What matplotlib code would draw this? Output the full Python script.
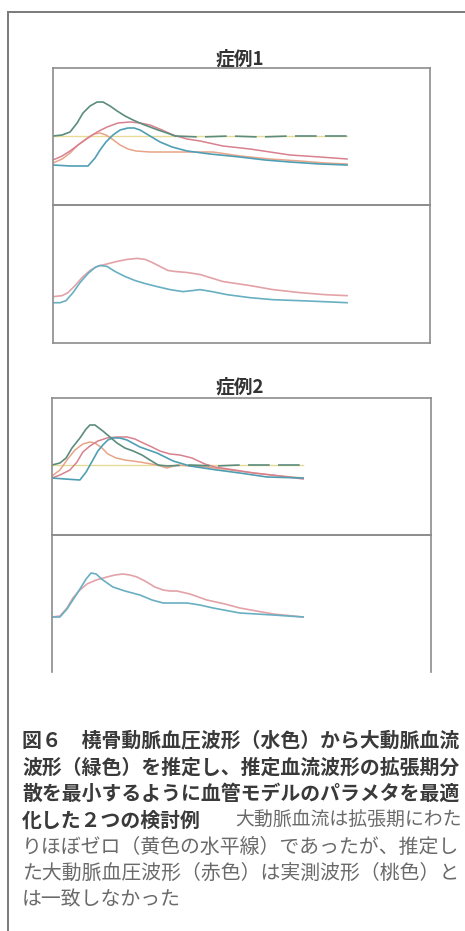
import matplotlib
matplotlib.use("Agg")
import matplotlib.pyplot as plt
from matplotlib.lines import Line2D

plt.rcParams['font.family'] = ['Noto Sans CJK JP', 'DejaVu Sans']

#------------ 症例1 上段 (ms, 任意単位) --------------------
c1_t_flow = [0, 31, 58, 82, 102, 126, 150, 170, 194, 218, 245, 272, 303, 330,
             357, 388, 415, 500, 602, 704, 806, 908, 1000]
c1_flow = [69, 70, 73, 82, 92, 99, 103, 103, 99, 94, 89, 85, 81, 78,
           75, 72, 69, 68, 69, 68, 69, 69, 69]
c1_t_radial = [0, 58, 119, 143, 160, 180, 204, 228, 255, 276, 296, 330, 364,
               405, 456, 534, 636, 721, 806, 908, 1000]
c1_radial = [40, 39, 39, 47, 55, 63, 70, 75, 77, 77, 75, 69, 63,
             58, 54, 51, 48, 45, 43, 41, 40]
c1_t_est = [0, 31, 58, 85, 119, 150, 184, 221, 262, 296, 330, 371, 408, 456,
            500, 578, 670, 806, 908, 1000]
c1_est = [45, 49, 54, 60, 67, 73, 78, 82, 83, 82, 80, 75, 70, 66,
          64, 59, 56, 50, 48, 46]
c1_t_meas = [0, 31, 58, 85, 116, 139, 160, 180, 201, 228, 255, 282, 330, 398,
             466, 544, 636, 738, 840, 925, 1000]
c1_meas = [42, 46, 52, 60, 67, 71, 72, 70, 66, 60, 56, 54, 53, 53,
           53, 53, 49, 46, 44, 42, 41]
c1_zero = 69
c1_split = 16

#------------ 症例1 下段 --------------------
c1b_t_blue = [0, 24, 44, 68, 92, 119, 143, 160, 184, 211, 245, 279, 313, 354,
              398, 442, 473, 500, 541, 592, 670, 748, 840, 925, 1000]
c1b_blue = [40, 40, 42, 50, 60, 69, 75, 77, 76, 71, 66, 62, 59, 56,
            53, 51, 52, 53, 51, 48, 45, 43, 42, 41, 40]
c1b_t_pink = [0, 31, 51, 75, 99, 126, 150, 177, 218, 252, 286, 313, 337, 364,
              391, 415, 456, 500, 578, 670, 748, 840, 925, 1000]
c1b_pink = [46, 47, 50, 57, 65, 72, 76, 78, 81, 83, 84, 83, 80, 76,
            72, 71, 70, 68, 61, 57, 53, 50, 48, 47]

#------------ 症例2 上段 --------------------
c2_t_flow = [0, 27, 48, 68, 95, 116, 129, 146, 173, 197, 221, 248, 276, 306,
             333, 361, 391, 469, 554, 639, 741, 854]
c2_flow = [70, 72, 77, 87, 97, 106, 110, 110, 104, 98, 92, 87, 84, 80,
           75, 70, 69, 70, 69, 70, 70, 70]
c2_t_radial = [0, 44, 95, 116, 139, 156, 173, 190, 207, 231, 255, 299, 357,
               412, 469, 561, 639, 731, 854]
c2_radial = [57, 56, 55, 63, 75, 84, 90, 95, 97, 97, 95, 88, 82,
             74, 69, 65, 62, 58, 57]
c2_t_est = [0, 27, 61, 85, 105, 129, 156, 187, 221, 255, 282, 310, 340, 367,
            401, 435, 476, 520, 554, 622, 684, 776, 854]
c2_est = [57, 60, 65, 73, 83, 89, 94, 97, 98, 98, 96, 92, 88, 84,
          81, 80, 77, 71, 68, 65, 62, 59, 56]
c2_t_meas = [0, 27, 51, 78, 105, 129, 146, 170, 190, 218, 248, 299, 357, 391,
             425, 469, 527, 605, 690, 776, 854]
c2_meas = [59, 65, 75, 85, 91, 93, 92, 87, 81, 77, 75, 73, 70, 67,
           70, 69, 68, 65, 62, 59, 57]
c2_zero = 70
c2_split = 15

#------------ 症例2 下段 --------------------
c2b_t_blue = [0, 27, 51, 71, 95, 116, 133, 150, 173, 207, 248, 299, 340, 378,
              418, 459, 503, 548, 639, 752, 854]
c2b_blue = [55, 55, 63, 72, 83, 93, 99, 98, 92, 85, 81, 77, 72, 69,
            69, 69, 67, 64, 59, 57, 55]
c2b_t_pink = [0, 27, 51, 71, 95, 119, 150, 187, 214, 241, 265, 289, 316, 350,
              378, 401, 425, 469, 527, 588, 639, 752, 854]
c2b_pink = [55, 56, 64, 74, 82, 88, 92, 95, 97, 98, 97, 95, 91, 85,
            82, 81, 81, 78, 72, 68, 64, 58, 55]

titles = ["症例1", "症例2"]

caption_bold = ["図６　橈骨動脈血圧波形（水色）から大動脈血流",
                "波形（緑色）を推定し、推定血流波形の拡張期分",
                "散を最小するように血管モデルのパラメタを最適",
                "化した２つの検討例"]
caption_normal = ["大動脈血流は拡張期にわた",
                  "りほぼゼロ（黄色の水平線）であったが、推定し",
                  "た大動脈血圧波形（赤色）は実測波形（桃色）と",
                  "は一致しなかった"]

# 色
col_flow = '#5c8c7e'
col_radial = '#4f9fb4'
col_est = '#d9808e'
col_meas = '#e8a488'
col_zero = '#e6dc98'
col_blue2 = '#68afc2'
col_pink2 = '#e2a2a8'
col_frame = '#8c8c8c'

W, H = 465, 931
fig = plt.figure(figsize=(W / 100, H / 100), dpi=100)
fig.patch.set_facecolor('white')


def box(left, top, right, bottom):
    return [left / W, 1 - bottom / H, (right - left) / W, (bottom - top) / H]


def panel(rect, xmax, open_bottom=False):
    ax = fig.add_axes(rect)
    ax.set_xlim(0, xmax)
    ax.set_ylim(0, 137)
    ax.set_xticks([])
    ax.set_yticks([])
    ax.patch.set_alpha(0)
    for s in ax.spines.values():
        s.set_color(col_frame)
        s.set_linewidth(1.2)
    if open_bottom:
        ax.spines['bottom'].set_visible(False)
    return ax


def upper(ax, t_flow, flow, split, t_rad, rad, t_est, est, t_meas, meas, zero, tend):
    ax.plot([0, tend], [zero, zero], color=col_zero, lw=1.0)
    ax.plot(t_meas, meas, color=col_meas, lw=1.1)
    ax.plot(t_est, est, color=col_est, lw=1.1)
    ax.plot(t_rad, rad, color=col_radial, lw=1.2)
    ax.plot(t_flow[:split + 1], flow[:split + 1], color=col_flow, lw=1.2)
    ax.plot(t_flow[split:], flow[split:], color=col_flow, lw=1.2,
            dashes=(13, 5))


def lower(ax, t_b, b, t_p, p):
    ax.plot(t_p, p, color=col_pink2, lw=1.2)
    ax.plot(t_b, b, color=col_blue2, lw=1.2)


# 症例1
ax1 = panel(box(53, 68, 430, 205), 1282)
upper(ax1, c1_t_flow, c1_flow, c1_split, c1_t_radial, c1_radial,
      c1_t_est, c1_est, c1_t_meas, c1_meas, c1_zero, c1_t_flow[-1])
ax2 = panel(box(53, 205, 430, 343), 1282)
lower(ax2, c1b_t_blue, c1b_blue, c1b_t_pink, c1b_pink)

# 症例2
ax3 = panel(box(52, 398, 431, 535), 1289)
upper(ax3, c2_t_flow, c2_flow, c2_split, c2_t_radial, c2_radial,
      c2_t_est, c2_est, c2_t_meas, c2_meas, c2_zero, c2_t_flow[-1])
ax4 = panel(box(52, 535, 431, 672), 1289, open_bottom=True)
lower(ax4, c2b_t_blue, c2b_blue, c2b_t_pink, c2b_pink)

fig.text(240 / W, 1 - 59 / H, titles[0], ha='center', va='center',
         fontsize=13.5, fontweight='bold', color='#333333')
fig.text(240 / W, 1 - 387 / H, titles[1], ha='center', va='center',
         fontsize=13.5, fontweight='bold', color='#333333')

# 外枠
fig.add_artist(Line2D([8 / W, 1.0], [1 - 12 / H, 1 - 12 / H],
                      transform=fig.transFigure, color='#7a7a7a', lw=1.4))
fig.add_artist(Line2D([8 / W, 8 / W], [1 - 12 / H, 0.0],
                      transform=fig.transFigure, color='#7a7a7a', lw=1.4))

# 図の説明文
line_y = [740, 767, 793, 820, 847, 873, 900]
x0, x1 = 22 / W, 462 / W
for i, s in enumerate(caption_bold):
    fig.text(x0, 1 - line_y[i] / H, s, ha='left', va='center',
             fontsize=14.3, fontweight='bold', color='#3a3a3a')
fig.text(x1, 1 - line_y[3] / H, caption_normal[0], ha='right', va='center',
         fontsize=13.6, color='#6a6a6a')
for i, s in enumerate(caption_normal[1:]):
    fig.text(x0, 1 - line_y[4 + i] / H, s, ha='left', va='center',
             fontsize=14.3, color='#6a6a6a')

fig.savefig('out.png', dpi=100, facecolor='white')
